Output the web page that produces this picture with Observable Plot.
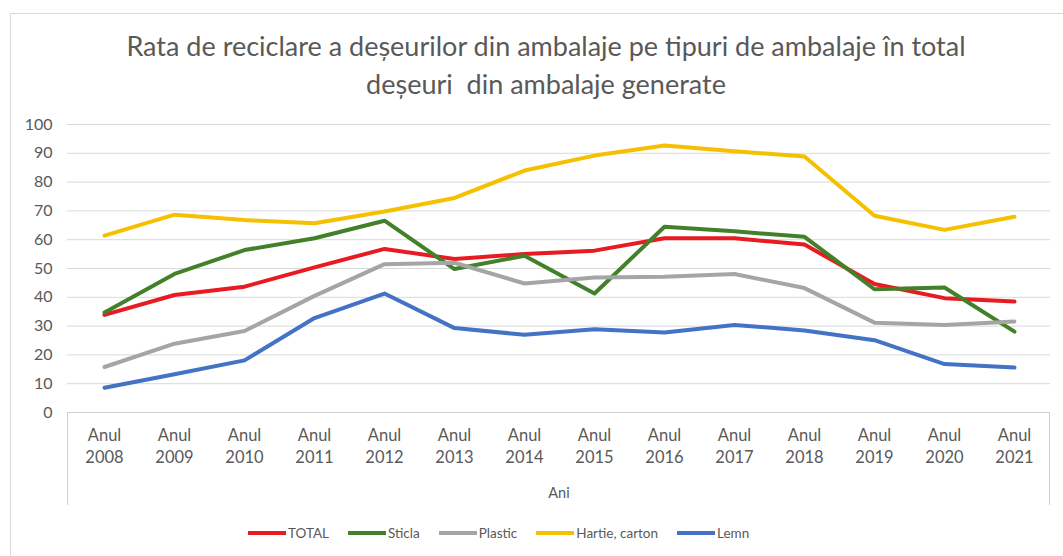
<!DOCTYPE html>
<html><head><meta charset="utf-8">
<script src="https://cdn.jsdelivr.net/npm/d3@7"></script>
<script src="https://cdn.jsdelivr.net/npm/@observablehq/plot@0.6"></script>
<style>
body{margin:0;background:#fff;font-family:Lato,sans-serif;}
#chart{position:relative;width:1063px;height:556px;overflow:hidden;background:#fff}
#frame{position:absolute;left:10px;top:13px;width:1060px;height:560px;border:1px solid #d9d9d9;box-sizing:border-box}
#title{position:absolute;left:10px;width:1072px;top:27px;text-align:center;font-size:27px;line-height:38px;color:#595959}
#plot{position:absolute;left:0;top:110px}
#legend{position:absolute;left:248px;top:524px;height:18px;display:flex;align-items:center;font-size:13.5px;color:#595959;line-height:18px}
.item{display:flex;align-items:center;margin-right:19px}
.sw{width:38px;height:4px;margin-right:2px}
</style></head>
<body>
<div id="chart">
  <div id="frame"></div>
  <div id="title">Rata de reciclare a deșeurilor din ambalaje pe tipuri de ambalaje în total<br>deșeuri&nbsp; din ambalaje generate</div>
  <div id="plot"></div>
  <div id="legend"></div>
</div>
<script>
const years = [2008, 2009, 2010, 2011, 2012, 2013, 2014, 2015, 2016, 2017, 2018, 2019, 2020, 2021];
const yTicks = [0, 10, 20, 30, 40, 50, 60, 70, 80, 90, 100];
const seriesNames = ["TOTAL", "Sticla", "Plastic", "Hartie, carton", "Lemn"];
const seriesColors = ["#e81b23", "#43802a", "#a5a5a5", "#f5c000", "#4472c4"];
const total   = [33.9, 40.8, 43.7, 50.4, 56.8, 53.3, 55.0, 56.2, 60.5, 60.5, 58.3, 44.6, 39.7, 38.5];
const sticla  = [34.7, 48.1, 56.4, 60.5, 66.6, 49.8, 54.4, 41.3, 64.5, 62.9, 61.0, 42.8, 43.4, 28.1];
const plastic = [15.8, 23.9, 28.3, 40.5, 51.5, 52.0, 44.8, 46.9, 47.1, 48.1, 43.2, 31.2, 30.4, 31.6];
const hartie  = [61.4, 68.7, 66.8, 65.7, 69.8, 74.5, 84.0, 89.2, 92.7, 90.7, 88.9, 68.3, 63.4, 68.0];
const lemn    = [8.6, 13.3, 18.1, 32.8, 41.3, 29.3, 27.0, 28.9, 27.8, 30.4, 28.5, 25.1, 16.8, 15.6];
const seriesValues = [total, sticla, plastic, hartie, lemn];

const data = seriesNames.flatMap((name, s) => years.map((year, i) => ({series: name, year, value: seriesValues[s][i]})));

const svg = Plot.plot({
  width: 1063, height: 405,
  marginTop: 14, marginBottom: 103, marginLeft: 67, marginRight: 13,
  style: {fontFamily: "Lato, sans-serif", color: "#595959", background: "transparent"},
  x: {type: "point", domain: years, padding: 0.5},
  y: {domain: [0, 100]},
  color: {domain: seriesNames, range: seriesColors},
  marks: [
    Plot.ruleY(yTicks.filter(t => t > 0), {stroke: "#d9d9d9", strokeWidth: 1}),
    Plot.ruleY([0], {stroke: "#d0d0d0", strokeWidth: 1}),
    Plot.axisY({ticks: yTicks, tickSize: 0, tickPadding: 15, fontSize: 16, fill: "#595959", label: null}),
    Plot.axisX({tickSize: 0, tickPadding: 13, tickFormat: d => `Anul\n${d}`, fontSize: 16.5, lineHeight: 1.34, fill: "#595959", label: null}),
    Plot.lineY(data, {x: "year", y: "value", z: "series", stroke: "series", strokeWidth: 4, strokeLinejoin: "round", strokeLinecap: "round"}),
    Plot.text(["Ani"], {frameAnchor: "bottom", dy: 85, fontSize: 14.5, fill: "#595959"})
  ]
});
const g = d3.select(svg);
[67.5, 1049.5].forEach(x => g.append("line").attr("x1", x).attr("x2", x).attr("y1", 302).attr("y2", 395).attr("stroke", "#d0d0d0"));
document.getElementById("plot").appendChild(svg);

const legend = d3.select("#legend");
seriesNames.forEach((name, i) => {
  const it = legend.append("div").attr("class", "item");
  it.append("div").attr("class", "sw").style("background", seriesColors[i]);
  it.append("span").text(name);
});
</script>
</body></html>
